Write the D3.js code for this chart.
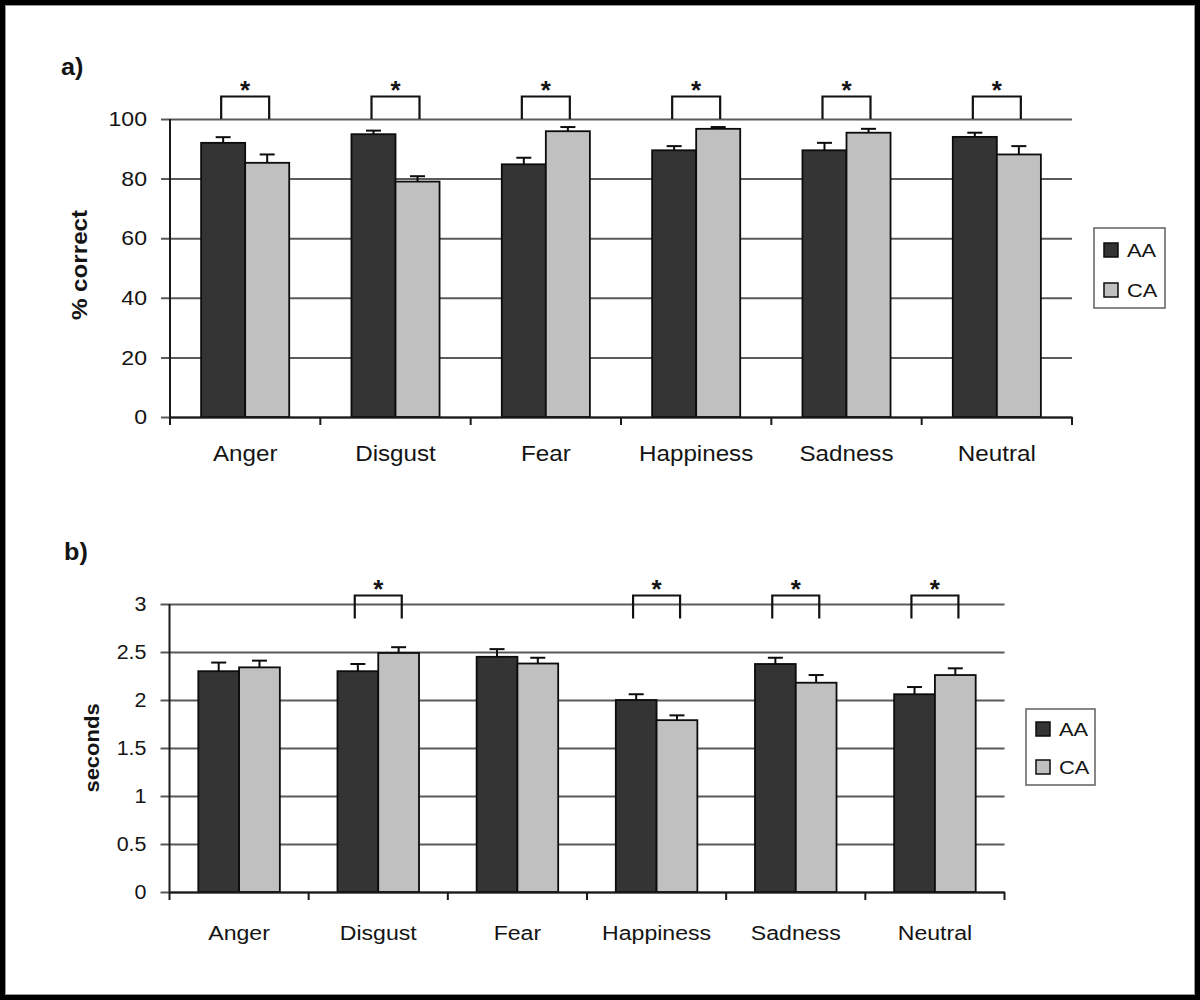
<!DOCTYPE html>
<html><head><meta charset="utf-8">
<script src="https://cdn.jsdelivr.net/npm/d3@7"></script>
<style>body{margin:0;background:#fff}svg{display:block}</style>
</head><body><svg id="c" width="1200" height="1000"></svg>
<script>
// ---------- data ----------
const categories = ["Anger", "Disgust", "Fear", "Happiness", "Sadness", "Neutral"];
const groups = ["AA", "CA"];

const accuracyAA    = [92.0, 94.9, 84.8, 89.5, 89.5, 94.0];
const accuracyAAErr = [1.9, 1.2, 2.2, 1.4, 2.5, 1.4];
const accuracyCA    = [85.3, 79.0, 95.9, 96.7, 95.4, 88.1];
const accuracyCAErr = [2.8, 1.8, 1.4, 0.6, 1.3, 2.8];
const accuracyTicks = [0, 20, 40, 60, 80, 100];
const accuracySig   = ["Anger", "Disgust", "Fear", "Happiness", "Sadness", "Neutral"];

const rtAA    = [2.30, 2.30, 2.45, 2.00, 2.375, 2.06];
const rtAAErr = [0.09, 0.075, 0.08, 0.06, 0.065, 0.075];
const rtCA    = [2.34, 2.49, 2.38, 1.79, 2.18, 2.26];
const rtCAErr = [0.07, 0.06, 0.06, 0.05, 0.08, 0.07];
const rtTicks = [0, 0.5, 1, 1.5, 2, 2.5, 3];
const rtSig   = ["Disgust", "Happiness", "Sadness", "Neutral"];

// ---------- drawing ----------
const FONT = '"Liberation Sans", Arial, Helvetica, sans-serif';
const SX = 1.1;
const INK = "#141414";
const colors = { AA: "#343434", CA: "#c0c0c0" };
const svg = d3.select("#c");
svg.append("rect").attr("width", 1200).attr("height", 1000).attr("fill", "#fff");

function sText(parent, x, y, str, o) {
  o = o || {};
  return parent.append("text")
    .attr("transform", `translate(${x},${y})` + (o.rot ? ` rotate(${o.rot})` : "") + ` scale(${o.sx || SX},1)`)
    .attr("font-family", FONT)
    .attr("font-size", o.fs || 20)
    .attr("font-weight", o.bold ? "bold" : "normal")
    .attr("text-anchor", o.anchor || "start")
    .attr("dominant-baseline", o.baseline || "auto")
    .attr("fill", INK)
    .text(str);
}

function drawPanel(p) {
  const g = svg.append("g");
  const x = d3.scaleBand().domain(categories).range([p.left, p.right]).padding(0);
  const bw = x.bandwidth();
  const xs = d3.scaleBand().domain(groups).range([0.207 * bw, 0.793 * bw]).padding(0);
  const y = d3.scaleLinear().domain([0, p.max]).range([p.bottom, p.top]);

  // gridlines + tick labels
  const ya = d3.axisLeft(y).tickValues(p.ticks).tickSize(-(p.right - p.left + 9)).tickPadding(14).tickFormat(p.fmt);
  const yg = g.append("g").attr("transform", `translate(${p.left - 9},0)`).call(ya)
    .attr("font-family", FONT).attr("font-size", p.tickFs);
  yg.select(".domain").remove();
  yg.selectAll(".tick line").attr("stroke", "#5a5a5a").attr("stroke-width", 2);
  yg.selectAll(".tick text").attr("fill", INK).attr("x", -p.tickGap / SX).attr("transform", `scale(${SX},1)`);

  // bars
  const rows = categories.map((c, i) => ({
    c,
    vals: [
      { k: "AA", v: p.aa[i], e: p.aaErr[i] },
      { k: "CA", v: p.ca[i], e: p.caErr[i] }
    ]
  }));
  const cg = g.selectAll(".cat").data(rows).enter().append("g")
    .attr("transform", d => `translate(${x(d.c)},0)`);
  cg.selectAll("rect").data(d => d.vals).enter().append("rect")
    .attr("x", d => xs(d.k)).attr("width", xs.bandwidth())
    .attr("y", d => y(d.v)).attr("height", d => y(0) - y(d.v))
    .attr("fill", d => colors[d.k]).attr("stroke", "#0c0c0c").attr("stroke-width", 1.8);
  // error bars
  const eg = cg.selectAll(".err").data(d => d.vals).enter().append("g")
    .attr("stroke", "#0c0c0c").attr("stroke-width", 2);
  eg.append("line")
    .attr("x1", d => xs(d.k) + xs.bandwidth() / 2).attr("x2", d => xs(d.k) + xs.bandwidth() / 2)
    .attr("y1", d => y(d.v)).attr("y2", d => y(d.v + d.e));
  eg.append("line")
    .attr("x1", d => xs(d.k) + xs.bandwidth() / 2 - 7.5).attr("x2", d => xs(d.k) + xs.bandwidth() / 2 + 7.5)
    .attr("y1", d => y(d.v + d.e)).attr("y2", d => y(d.v + d.e));

  // x axis
  const xa = d3.axisBottom(x).tickSize(0).tickSizeOuter(0);
  const xg = g.append("g").attr("transform", `translate(0,${p.bottom})`).call(xa)
    .attr("font-family", FONT).attr("font-size", p.catFs);
  xg.select(".domain").attr("stroke", "#1a1a1a").attr("stroke-width", 2);
  xg.selectAll(".tick text").attr("fill", INK).attr("y", p.catY).attr("dy", 0).attr("transform", `scale(${SX},1)`);
  g.selectAll(".bt").data(d3.range(categories.length + 1)).enter().append("line")
    .attr("x1", i => p.left + i * x.step()).attr("x2", i => p.left + i * x.step())
    .attr("y1", p.bottom).attr("y2", p.bottom + 8)
    .attr("stroke", "#1a1a1a").attr("stroke-width", 2);
  // y axis line
  g.append("line").attr("x1", p.left).attr("x2", p.left).attr("y1", y(p.max)).attr("y2", p.bottom)
    .attr("stroke", "#1a1a1a").attr("stroke-width", 2);

  // significance brackets
  const top = y(p.max) + p.brTop, bot = y(p.max) + p.brBot;
  p.sig.forEach(c => {
    const cx = x(c) + bw / 2;
    g.append("path")
      .attr("d", `M${cx - p.brHalf},${bot}V${top}H${cx + p.brHalf}V${bot}`)
      .attr("fill", "none").attr("stroke", "#111").attr("stroke-width", 2.2);
    g.append("text").attr("x", cx).attr("y", y(p.max) + p.starY)
      .attr("font-family", FONT).attr("font-size", 26).attr("font-weight", "bold")
      .attr("text-anchor", "middle").attr("fill", INK).text("*");
  });

  // panel label and y title
  sText(g, p.tagX, p.tagY, p.tag, { fs: 24, bold: true, sx: 1.05 });
  sText(g, p.titleX, p.titleY, p.title, { fs: p.titleFs, bold: true, rot: -90, anchor: "middle", baseline: "central" });

  // legend
  const L = p.legend;
  const lg = g.append("g").attr("transform", `translate(${L.x},${L.y})`);
  lg.append("rect").attr("width", L.w).attr("height", L.h).attr("fill", "#fff")
    .attr("stroke", "#6a6a6a").attr("stroke-width", 1.6);
  groups.forEach((k, i) => {
    const cy = L.row0 + i * L.rowStep;
    lg.append("rect").attr("x", 10).attr("y", cy - 7).attr("width", 14).attr("height", 14)
      .attr("fill", colors[k]).attr("stroke", "#0c0c0c").attr("stroke-width", 1.5);
    sText(lg, 33, cy, k, { fs: 19, sx: 1.15, baseline: "central" });
  });
}

drawPanel({
  left: 170, right: 1072, bottom: 417, top: 119, max: 100,
  ticks: accuracyTicks, fmt: d3.format("d"), tickFs: 21, tickGap: 14,
  aa: accuracyAA, aaErr: accuracyAAErr, ca: accuracyCA, caErr: accuracyCAErr,
  catFs: 22, catY: 44,
  sig: accuracySig, brTop: -22.5, brBot: 0, brHalf: 24, starY: -20,
  tag: "a)", tagX: 61, tagY: 75,
  title: "% correct", titleX: 79, titleY: 265, titleFs: 22,
  legend: { x: 1094, y: 228, w: 71, h: 80, row0: 22, rowStep: 40 }
});

drawPanel({
  left: 169.5, right: 1004.5, bottom: 892, top: 604, max: 3,
  ticks: rtTicks, fmt: d => String(d), tickFs: 19.5, tickGap: 14,
  aa: rtAA, aaErr: rtAAErr, ca: rtCA, caErr: rtCAErr,
  catFs: 21, catY: 48,
  sig: rtSig, brTop: -8.5, brBot: 14.5, brHalf: 23.5, starY: -6,
  tag: "b)", tagX: 64, tagY: 560,
  title: "seconds", titleX: 92, titleY: 748, titleFs: 20,
  legend: { x: 1026, y: 709, w: 69, h: 76, row0: 20, rowStep: 38 }
});

// outer frame
svg.append("rect").attr("x", 2.5).attr("y", 2.5).attr("width", 1195).attr("height", 995)
  .attr("fill", "none").attr("stroke", "#000").attr("stroke-width", 5);
svg.append("rect").attr("x", 5.5).attr("y", 5.5).attr("width", 1189).attr("height", 989)
  .attr("fill", "none").attr("stroke", "#999").attr("stroke-width", 1);
</script></body></html>
